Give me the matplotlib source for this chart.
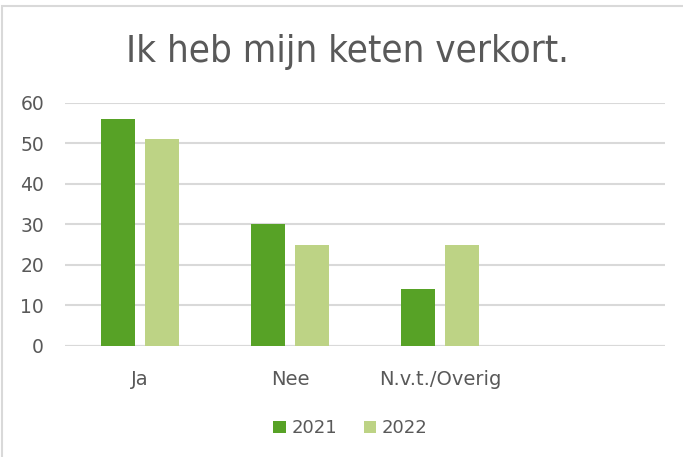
import matplotlib
matplotlib.use("Agg")
import matplotlib.pyplot as plt
import numpy as np
from matplotlib.patches import Rectangle

# data
categories = ["Ja", "Nee", "N.v.t./Overig", ""]
vals_2021 = [56, 30, 14, np.nan]
vals_2022 = [51, 25, 25, np.nan]
years = ["2021", "2022"]

c_2021 = "#57A226"
c_2022 = "#BDD385"
grey = "#595959"

plt.rcParams['font.family'] = ['DejaVu Sans']

fig = plt.figure(figsize=(6.83, 4.57), dpi=100)
ax = fig.add_axes([0.095, 0.243, 0.879, 0.532])

x = np.arange(len(categories))
w = 0.227
ax.bar(x - 0.145, vals_2021, width=w, color=c_2021, label=years[0], zorder=3)
ax.bar(x + 0.145, vals_2022, width=w, color=c_2022, label=years[1], zorder=3)

ax.set_xlim(-0.5, len(categories) - 0.5)
ax.set_ylim(0, 60)
ax.set_yticks(range(0, 61, 10))
ax.set_xticks(x)
ax.set_xticklabels(categories)
ax.yaxis.grid(True, color="#D9D9D9", linewidth=1.5, zorder=0)
ax.tick_params(axis="both", length=0, labelsize=13.5, colors=grey)
ax.tick_params(axis="x", pad=17)
ax.tick_params(axis="y", pad=15)
for t in ax.get_xticklabels():
    t.set_fontsize(14)
for s in ax.spines.values():
    s.set_visible(False)
ax.axhline(0, color="#D9D9D9", linewidth=1.5, zorder=2)

fig.text(0.5095, 0.886, "Ik heb mijn keten verkort.", ha="center", va="center",
         fontsize=27.5, color=grey, fontstretch="condensed")

leg = fig.legend(loc="center", bbox_to_anchor=(0.513, 0.063), ncol=2, frameon=False,
                 fontsize=13, handlelength=0.7, handleheight=0.7, handletextpad=0.3,
                 columnspacing=1.5)
for t in leg.get_texts():
    t.set_color(grey)

# outer chart frame
fig.patches.append(Rectangle((2 / 683, -0.1), 1.2, 1 - 6 / 457 + 0.1,
                             transform=fig.transFigure, fill=False,
                             edgecolor="#D9D9D9", linewidth=1.5))

fig.savefig("out.png", dpi=100)
